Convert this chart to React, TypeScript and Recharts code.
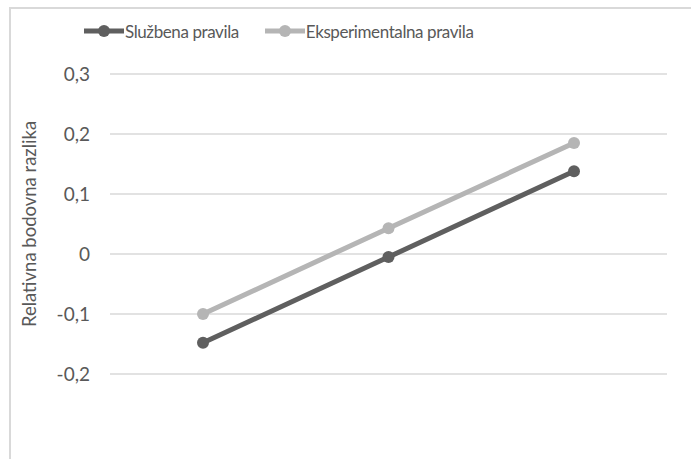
import React from "react";
import { LineChart, Line, XAxis, YAxis, CartesianGrid } from "recharts";

const categories = ["1", "2", "3"];
const sluzbena = [-0.148, -0.005, 0.138];
const eksperimentalna = [-0.1, 0.043, 0.185];
const yTicks = [-0.2, -0.1, 0, 0.1, 0.2, 0.3];

const SERIES = [
  { key: "sluzbena", name: "Službena pravila", color: "#5f5f5f" },
  { key: "eksperimentalna", name: "Eksperimentalna pravila", color: "#b5b5b5" },
];

const data = categories.map((c, i) => ({
  category: c,
  sluzbena: sluzbena[i],
  eksperimentalna: eksperimentalna[i],
}));

const FONT = "Lato, 'Open Sans', sans-serif";

const fmt = (v: number) => (v === 0 ? "0" : v.toFixed(1).replace(".", ","));

export default function App() {
  return (
    <div style={{ position: "absolute", left: 0, top: 0, width: 691, height: 459, overflow: "hidden", background: "#fff", fontFamily: FONT }}>
      <div style={{ position: "absolute", left: 9, top: 7, width: 700, height: 470, border: "2px solid #d9d9d9", boxSizing: "border-box" }} />
      <div style={{ position: "absolute", top: 20, left: 84, display: "flex", alignItems: "center", fontSize: 17, letterSpacing: -0.4, color: "#595959" }}>
        {SERIES.map((s, i) => (
          <div key={s.key} style={{ display: "flex", alignItems: "center", marginRight: i === 0 ? 26 : 0 }}>
            <svg width={40} height={22}>
              <line x1={0} y1={11} x2={40} y2={11} stroke={s.color} strokeWidth={5} />
              <circle cx={20} cy={11} r={6} fill={s.color} />
            </svg>
            <span style={{ marginLeft: 1 }}>{s.name}</span>
          </div>
        ))}
      </div>
      <div style={{ position: "absolute", left: 0, top: 0 }}>
        <LineChart width={691} height={459} data={data} margin={{ top: 74, right: 24, bottom: 85, left: 0 }}>
          <CartesianGrid vertical={false} stroke="#d9d9d9" strokeWidth={1.5} />
          <XAxis dataKey="category" hide padding={{ left: 93, right: 93 }} />
          <YAxis
            domain={[-0.2, 0.3]}
            ticks={yTicks}
            width={110}
            axisLine={false}
            tickLine={false}
            tickSize={0}
            tickMargin={20}
            tickFormatter={fmt}
            tick={{ fill: "#595959", fontSize: 19, fontFamily: FONT }}
            label={{
              value: "Relativna bodovna razlika",
              angle: -90,
              position: "insideLeft",
              dx: 24,
              dy: 0,
              style: { fill: "#595959", fontSize: 18.5, fontFamily: FONT, textAnchor: "middle" },
            }}
          />
          {SERIES.map((s) => (
            <Line
              key={s.key}
              dataKey={s.key}
              name={s.name}
              stroke={s.color}
              strokeWidth={5}
              dot={{ r: 6, fill: s.color, stroke: s.color, strokeWidth: 0 }}
              activeDot={false}
              isAnimationActive={false}
            />
          ))}
        </LineChart>
      </div>
    </div>
  );
}
